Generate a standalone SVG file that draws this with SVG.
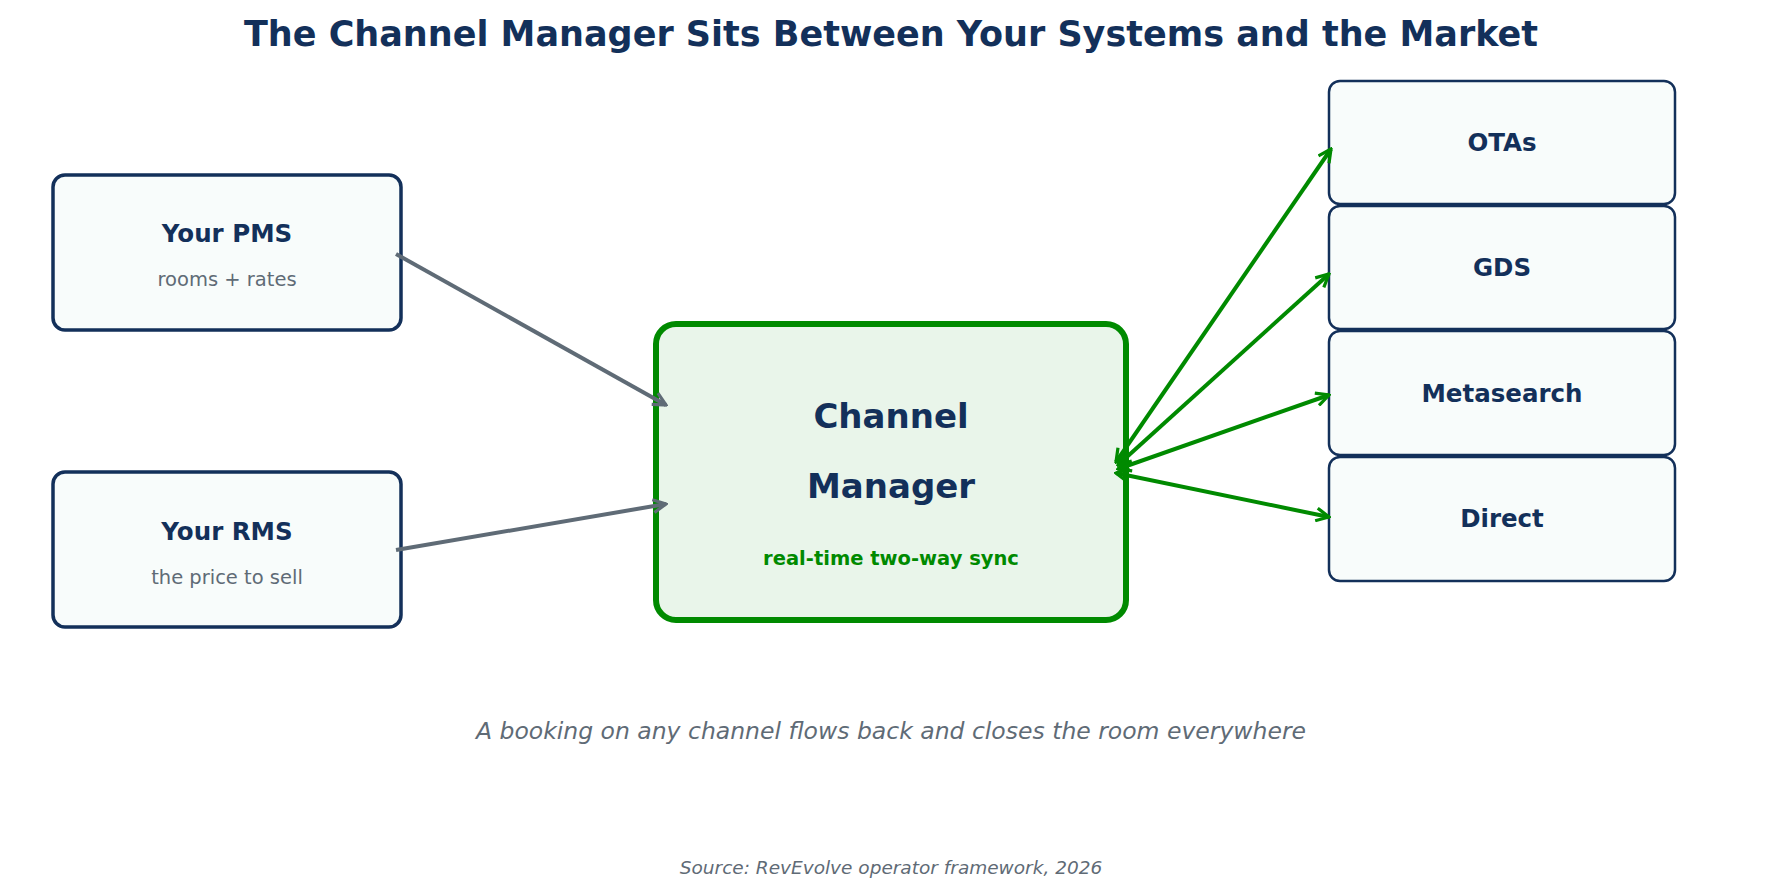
<svg xmlns="http://www.w3.org/2000/svg" width="1781" height="895" viewBox="0 0 1781 895">
<style>
text{font-family:"DejaVu Sans","Noto Sans",sans-serif;text-anchor:middle}
.t{fill:#13305a;font-weight:bold}
.s{fill:#5f6b76}
.box{fill:#f8fcfb;stroke:#13305a;stroke-width:3.5}
.rbox{fill:#f8fcfb;stroke:#13305a;stroke-width:2.5}
.g{stroke:#008a00;stroke-width:4;fill:none;marker-end:url(#ag);marker-start:url(#ags)}
.k{stroke:#5f6b76;stroke-width:4;fill:none;marker-end:url(#ak)}
</style>
<defs>
<marker id="ag" viewBox="0 0 10 10" refX="9" refY="5" markerWidth="4" markerHeight="4" orient="auto" markerUnits="strokeWidth"><path d="M1,1 L9,5 L1,9" fill="none" stroke="#008a00" stroke-width="2"/></marker>
<marker id="ags" viewBox="0 0 10 10" refX="9" refY="5" markerWidth="4" markerHeight="4" orient="auto-start-reverse" markerUnits="strokeWidth"><path d="M1,1 L9,5 L1,9" fill="none" stroke="#008a00" stroke-width="2"/></marker>
<marker id="ak" viewBox="0 0 10 10" refX="9" refY="5" markerWidth="4" markerHeight="4" orient="auto" markerUnits="strokeWidth"><path d="M1,1 L9,5 L1,9" fill="none" stroke="#5f6b76" stroke-width="2"/></marker>
</defs>
<rect width="1781" height="895" fill="#fff"/>
<text x="891" y="46" class="t" font-size="35">The Channel Manager Sits Between Your Systems and the Market</text>
<g id="pms"><rect class="box" x="53" y="175" width="348" height="155" rx="12"/>
<text x="227" y="242" class="t" font-size="24.5">Your PMS</text>
<text x="227" y="286" class="s" font-size="19.5">rooms + rates</text></g>
<g id="rms"><rect class="box" x="53" y="472" width="348" height="155" rx="12"/>
<text x="227" y="540" class="t" font-size="24.5">Your RMS</text>
<text x="227" y="584" class="s" font-size="19.5">the price to sell</text></g>
<g id="cm"><rect x="656" y="324" width="470" height="296" rx="20" fill="#e9f5ea" stroke="#008a00" stroke-width="6"/>
<text x="891" y="428" class="t" font-size="34">Channel</text>
<text x="891" y="498" class="t" font-size="34">Manager</text>
<text x="891" y="565" font-size="19.5" font-weight="bold" fill="#008a00">real-time two-way sync</text></g>
<g id="otas"><rect class="rbox" x="1329" y="81" width="346" height="123" rx="11"/><text x="1502" y="151" class="t" font-size="24.5">OTAs</text></g>
<g id="gds"><rect class="rbox" x="1329" y="206" width="346" height="123" rx="11"/><text x="1502" y="276" class="t" font-size="24.5">GDS</text></g>
<g id="meta"><rect class="rbox" x="1329" y="331" width="346" height="124" rx="11"/><text x="1502" y="402" class="t" font-size="24.5">Metasearch</text></g>
<g id="direct"><rect class="rbox" x="1329" y="457" width="346" height="124" rx="11"/><text x="1502" y="527" class="t" font-size="24.5">Direct</text></g>
<g id="connectors">
<line class="k" x1="396" y1="254" x2="666" y2="405"/>
<line class="k" x1="396" y1="550" x2="666" y2="504"/>
<line class="g" x1="1116" y1="462" x2="1331" y2="149"/>
<line class="g" x1="1118" y1="465" x2="1329" y2="274"/>
<line class="g" x1="1118" y1="469" x2="1329" y2="395"/>
<line class="g" x1="1116" y1="473" x2="1329" y2="517"/>
</g>
<text x="891" y="739" class="s" font-size="23.5" font-style="italic">A booking on any channel flows back and closes the room everywhere</text>
<text x="891" y="874" class="s" font-size="18.5" font-style="italic">Source: RevEvolve operator framework, 2026</text>
</svg>
